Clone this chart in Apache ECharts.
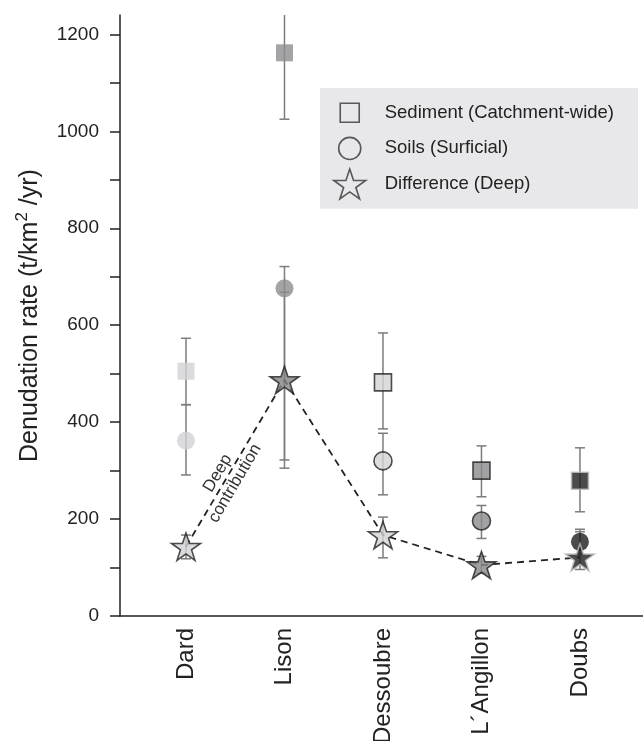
<!DOCTYPE html>
<html><head><meta charset="utf-8">
<script src="https://cdn.jsdelivr.net/npm/echarts@6/dist/echarts.min.js"></script>
<style>html,body{margin:0;padding:0;background:#fff;overflow:hidden}#c{width:643px;height:741px}</style>
</head><body><div id="c"></div>
<script>
// ---- data ----
const rivers = ['Dard', 'Lison', 'Dessoubre', 'L\u00B4Angillon', 'Doubs'];
const sediment     = [505, 1162, 482, 300, 279];
const sedimentLow  = [436, 1025, 386, 246, 215];
const sedimentHigh = [573, 1298, 584, 351, 347];
const soils        = [362, 676, 320, 196, 153];
const soilsLow     = [291, 305, 250, 160, 127];
const soilsHigh    = [436, 721, 377, 228, 179];
const difference     = [143, 487, 167, 105, 121];
const differenceLow  = [118, 322, 120, 88, 96];
const differenceHigh = [167, 668, 204, 123, 174];
const yTickValues  = [0, 100, 200, 300, 400, 500, 600, 700, 800, 900, 1000, 1100, 1200];
const yLabelValues = [0, 200, 400, 600, 800, 1000, 1200];
const seriesNames = ['Sediment (Catchment-wide)', 'Soils (Surficial)', 'Difference (Deep)'];

// ---- styles (per river) ----
const fills = ['#d2d2d4', '#8d8d90', '#d3d3d5', '#8b8b8e', '#1e1e1e'];
const starFills = ['#d2d2d4', '#838386', '#d3d3d5', '#88888b', '#1e1e1e'];
const squareBorders = [null, null, '#222', '#222', '#bdbdbd'];
const circleBorders = [null, null, '#222', '#222', null];
const starBorders = ['#222', '#222', '#222', '#222', '#bdbdbd'];
const FONT = '"Liberation Sans", Arial, Helvetica, sans-serif';
const STAR = 'path://M50,0L61.8,35.1L98.9,35.1L68.8,56.9L80.3,92.1L50,70.4L19.7,92.1L31.2,56.9L1.1,35.1L38.2,35.1Z';
const LEG_SQUARE = 'path://M-2.9,-2.9M0,0L10,0L10,10L0,10ZM12.9,12.9';
const LEG_CIRCLE = 'path://M-1.8,-1.8M5,0A5,5,0,1,1,5,10A5,5,0,1,1,5,0ZM11.8,11.8';

function pts(vals, borders, fillArr) {
  return vals.map((v, i) => ({
    value: [i, v],
    itemStyle: {
      color: fillArr[i],
      borderColor: borders[i] || fillArr[i],
      borderWidth: borders[i] ? 1.6 : 0
    }
  }));
}
function errs(lo, hi) { return lo.map((l, i) => [i, l, hi[i]]); }

function renderErr(params, api) {
  const x = api.value(0), lo = api.value(1), hi = api.value(2);
  const cs = params.coordSys;
  const pLo = api.coord([x, lo]);
  const pHi = api.coord([x, hi]);
  let yHi = pHi[1], capHi = true;
  if (yHi < cs.y) { yHi = cs.y; capHi = false; }
  const hw = 5;
  const style = { stroke: '#7c7c7e', lineWidth: 1.5, fill: null };
  const ch = [
    { type: 'line', shape: { x1: pLo[0], y1: pLo[1], x2: pLo[0], y2: yHi }, style },
    { type: 'line', shape: { x1: pLo[0] - hw, y1: pLo[1], x2: pLo[0] + hw, y2: pLo[1] }, style }
  ];
  if (capHi) ch.push({ type: 'line', shape: { x1: pLo[0] - hw, y1: yHi, x2: pLo[0] + hw, y2: yHi }, style });
  return { type: 'group', children: ch };
}

const chart = echarts.init(document.getElementById('c'), null, { renderer: 'canvas', width: 643, height: 741 });
chart.setOption({
  animation: false,
  backgroundColor: '#fff',
  textStyle: { fontFamily: FONT, color: '#222' },
  grid: { left: 120, right: 0, top: 15, height: 601, containLabel: false, outerBoundsMode: 'none' },
  legend: {
    orient: 'vertical', left: 320, top: 88,
    backgroundColor: '#e8e8ea',
    padding: [9, 24, 9, 13],
    itemWidth: 60, itemHeight: 30, itemGap: 4,
    selectedMode: false,
    textStyle: { fontSize: 18.5, color: '#222', fontFamily: FONT },
    data: [
      { name: seriesNames[0], icon: LEG_SQUARE, itemStyle: { color: 'rgba(0,0,0,0)', borderColor: '#333', borderWidth: 1.6 } },
      { name: seriesNames[1], icon: LEG_CIRCLE, itemStyle: { color: 'rgba(0,0,0,0)', borderColor: '#333', borderWidth: 1.6 } },
      { name: seriesNames[2], icon: STAR, itemStyle: { color: 'rgba(0,0,0,0)', borderColor: '#333', borderWidth: 1.6 } }
    ]
  },
  xAxis: {
    type: 'value', min: -0.67, max: 4.64,
    axisLine: { onZero: false, lineStyle: { color: '#222', width: 1.5 } },
    axisTick: { show: false },
    splitLine: { show: false },
    axisLabel: {
      customValues: [0, 1, 2, 3, 4],
      formatter: v => rivers[Math.round(v)] || '',
      rotate: 90, fontSize: 24, color: '#222', margin: 12, fontFamily: FONT
    }
  },
  yAxis: {
    type: 'value', min: 0, max: 1240, interval: 100,
    name: 'Denudation rate (t/km{sup|2} /yr)',
    nameLocation: 'middle', nameRotate: 90, nameGap: 69,
    nameTextStyle: {
      fontSize: 25, color: '#222', fontFamily: FONT, lineHeight: 32,
      rich: { sup: { fontSize: 17, verticalAlign: 'top', lineHeight: 17, fontFamily: FONT, color: '#222' } }
    },
    axisLine: { show: true, onZero: false, lineStyle: { color: '#222', width: 1.5 } },
    axisTick: { show: true, customValues: yTickValues, length: 10, lineStyle: { color: '#222', width: 1.5 } },
    splitLine: { show: false },
    axisLabel: {
      customValues: yLabelValues,
      formatter: v => (v % 200 === 0 && v <= 1200) ? String(v) : '',
      fontSize: 19, color: '#222', margin: 21, fontFamily: FONT
    }
  },
  series: [
    { type: 'custom', name: 'errSed', renderItem: renderErr, data: errs(sedimentLow, sedimentHigh), encode: { x: 0, y: [1, 2] }, z: 1, silent: true },
    { type: 'custom', name: 'errSoil', renderItem: renderErr, data: errs(soilsLow, soilsHigh), encode: { x: 0, y: [1, 2] }, z: 1, silent: true },
    { type: 'custom', name: 'errDiff', renderItem: renderErr, data: errs(differenceLow, differenceHigh), encode: { x: 0, y: [1, 2] }, z: 1, silent: true },
    {
      type: 'line', name: 'deepLine', data: difference.map((v, i) => [i, v]),
      symbol: 'none', z: 2, silent: true,
      lineStyle: { color: '#222', width: 1.8, type: [7, 5] }
    },
    { type: 'scatter', name: seriesNames[0], symbol: 'rect', symbolSize: 17, data: pts(sediment, squareBorders, fills), z: 3 },
    { type: 'scatter', name: seriesNames[1], symbol: 'circle', symbolSize: 18, data: pts(soils, circleBorders, fills), z: 3 },
    { type: 'scatter', name: seriesNames[2], symbol: STAR, symbolKeepAspect: true, symbolSize: [29, 29], data: pts(difference, starBorders, starFills), z: 4 }
  ]
});

// annotation placed along the segment joining the first two "Deep" points
const p0 = chart.convertToPixel({ gridIndex: 0 }, [0, difference[0]]);
const p1 = chart.convertToPixel({ gridIndex: 0 }, [1, difference[1]]);
const t = 0.41;
const cx = p0[0] + (p1[0] - p0[0]) * t;
const cy = p0[1] + (p1[1] - p0[1]) * t;
const ang = Math.atan2(p0[1] - p1[1], p1[0] - p0[0]);
chart.setOption({
  graphic: [{
    type: 'text', x: cx, y: cy, rotation: ang, z: 10,
    style: {
      text: 'Deep\ncontribution', fontSize: 17, fontFamily: FONT, fill: '#333',
      align: 'center', verticalAlign: 'middle', lineHeight: 20
    }
  }]
});
</script>
</body></html>
